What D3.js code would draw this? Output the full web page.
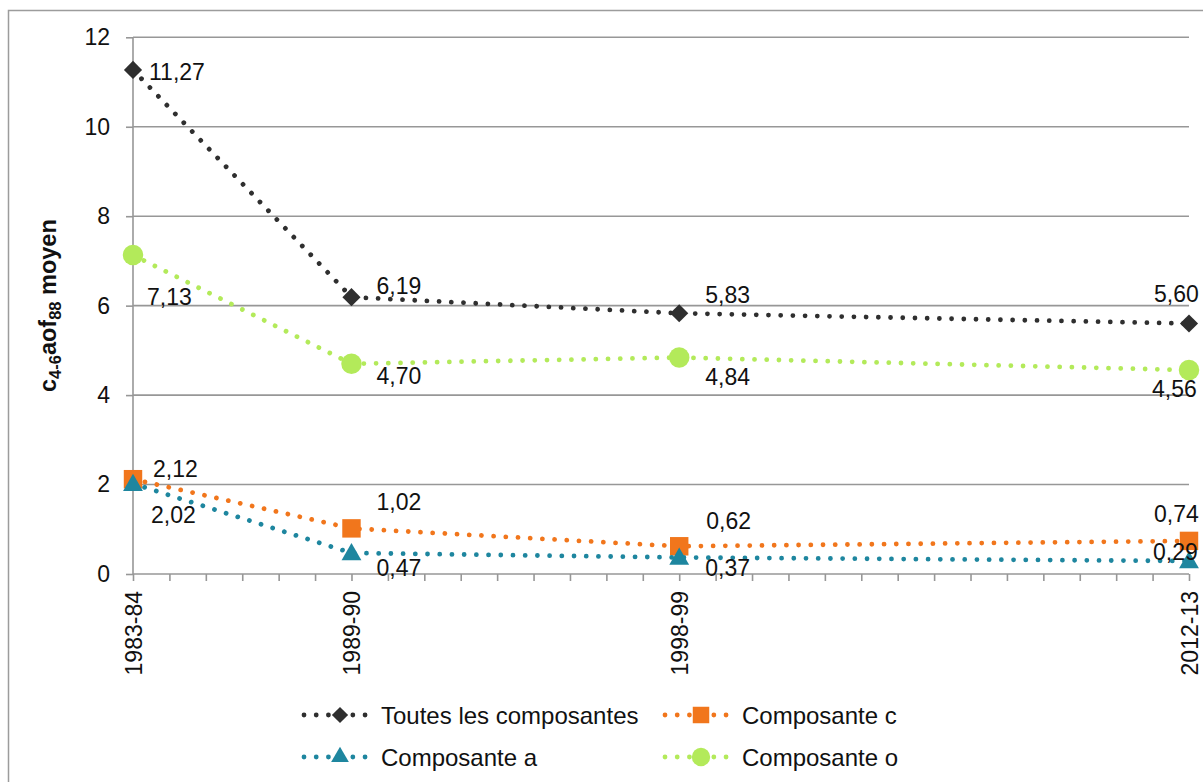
<!DOCTYPE html>
<html>
<head>
<meta charset="utf-8">
<script src="https://cdn.jsdelivr.net/npm/d3@7"></script>
<style>
  body { margin: 0; background: #fff; }
  svg { display: block; font-family: "Liberation Sans", Arial, Helvetica, sans-serif; }
</style>
</head>
<body>
<div id="chart"></div>
<script>
// periods on the x axis, placed on their starting year
const periods = ["1983-84", "1989-90", "1998-99", "2012-13"];
const startYears = [1983, 1989, 1998, 2012];

const toutes = [11.27, 6.19, 5.83, 5.60];
const compC = [2.12, 1.02, 0.62, 0.74];
const compA = [2.02, 0.47, 0.37, 0.29];
const compO = [7.13, 4.70, 4.84, 4.56];

const seriesNames = ["Toutes les composantes", "Composante c", "Composante a", "Composante o"];
const yTicks = [0, 2, 4, 6, 8, 10, 12];

// styling per series (not data)
const colors = ["#2f2f2f", "#f1761c", "#1e869f", "#b3ea5a"];
const shapes = ["diamond", "square", "triangle", "circle"];
// label offsets from the point: [dx, dy baseline]
const labelOffsets = [
  [[16, 10], [25, -3], [26, -10], [-35, -22]],
  [[20, -2], [25, -18], [27, -17], [-35, -19]],
  [[18, 39], [25, 23], [26, 19], [-36, -1]],
  [[14, 50], [25, 20], [26, 27], [-37, 27]]
];

const W = 1203, H = 782;
const margin = {top: 37.3, right: 14, bottom: 208, left: 133},
    width = W - margin.left - margin.right,
    height = H - margin.top - margin.bottom;

const root = d3.select("#chart").append("svg")
    .attr("width", W)
    .attr("height", H);

// outer chart frame (cut by the picture edge)
root.append("path")
    .attr("d", `M8.5,${H} V10.5 H${W}`)
    .attr("fill", "none")
    .attr("stroke", "#9c9c9c")
    .attr("stroke-width", 1.5);

const svg = root.append("g")
    .attr("transform", `translate(${margin.left},${margin.top})`);

const x = d3.scaleLinear()
    .domain([startYears[0], startYears[startYears.length - 1]])
    .range([0, width]);

const y = d3.scaleLinear()
    .domain([0, 12])
    .range([height, 0]);

// gridlines
svg.append("g")
  .selectAll("line")
  .data(yTicks.filter(d => d > 0))
  .join("line")
    .attr("x1", 0)
    .attr("x2", width)
    .attr("y1", d => y(d))
    .attr("y2", d => y(d))
    .attr("stroke", "#979797")
    .attr("stroke-width", 1.6);

// y axis
const yAxis = svg.append("g")
    .call(d3.axisLeft(y).tickValues(yTicks).tickSize(7).tickPadding(16));
yAxis.select(".domain").remove();
yAxis.append("line")
    .attr("x1", 0).attr("x2", 0)
    .attr("y1", 0).attr("y2", height)
    .attr("stroke", "#979797")
    .attr("stroke-width", 1.6);
yAxis.selectAll(".tick line").attr("stroke", "#979797").attr("stroke-width", 1.6);
yAxis.selectAll(".tick text")
    .attr("fill", "#111")
    .style("font-size", "23px")
    .style("font-family", "'Liberation Sans', Arial, sans-serif");

// x axis, one small tick per year
const labelOf = {};
startYears.forEach((yr, i) => labelOf[yr] = periods[i]);

const xAxis = svg.append("g")
    .attr("transform", `translate(0,${height})`)
    .call(d3.axisBottom(x)
      .tickValues(d3.range(startYears[0], startYears[startYears.length - 1] + 1))
      .tickSize(7)
      .tickFormat(d => labelOf[d] || ""));
xAxis.select(".domain")
    .attr("stroke", "#979797")
    .attr("stroke-width", 1.6)
    .attr("d", `M0,0H${width}`);
xAxis.selectAll(".tick line").attr("stroke", "#979797").attr("stroke-width", 1.6);
xAxis.selectAll(".tick text")
    .attr("fill", "#111")
    .style("font-size", "23px")
    .style("font-family", "'Liberation Sans', Arial, sans-serif")
    .attr("text-anchor", "end")
    .attr("transform", "rotate(-90)")
    .attr("x", -17)
    .attr("y", 0)
    .attr("dy", "0.36em");

// y axis title with subscripts
const title = root.append("text")
    .attr("transform", `translate(56,${margin.top + height / 2}) rotate(-90)`)
    .attr("text-anchor", "middle")
    .attr("font-weight", "bold")
    .attr("fill", "#111")
    .style("font-size", "23.5px");
title.append("tspan").text("c");
title.append("tspan").text("4-6").style("font-size", "16.5px").attr("dy", 5);
title.append("tspan").text("aof").attr("dy", -5);
title.append("tspan").text("88").style("font-size", "16.5px").attr("dy", 5);
title.append("tspan").text(" moyen").attr("dy", -5);

function symbolFor(shape, scale) {
  if (shape === "diamond") return d3.symbol().type(d3.symbolSquare).size(165 * scale)();
  if (shape === "square") return d3.symbol().type(d3.symbolSquare).size(340 * scale)();
  if (shape === "triangle") return d3.symbol().type(d3.symbolTriangle).size(170 * scale)();
  return d3.symbol().type(d3.symbolCircle).size(330 * scale)();
}

const fmt = v => d3.format(".2f")(v).replace(".", ",");

const allSeries = [toutes, compC, compA, compO];

const line = d3.line()
    .x((d, i) => x(startYears[i]))
    .y(d => y(d));

allSeries.forEach((values, s) => {
  const g = svg.append("g");

  g.append("path")
    .datum(values)
    .attr("d", line)
    .attr("fill", "none")
    .attr("stroke", colors[s])
    .attr("stroke-width", 4.8)
    .attr("stroke-linecap", "round")
    .attr("stroke-dasharray", "0.01 12.2");

  g.selectAll("path.marker")
    .data(values)
    .join("path")
      .attr("class", "marker")
      .attr("d", symbolFor(shapes[s], 1))
      .attr("transform", (d, i) => `translate(${x(startYears[i])},${y(d)})` +
          (shapes[s] === "diamond" ? " rotate(45)" : shapes[s] === "triangle" ? " translate(0,1.5)" : ""))
      .attr("fill", colors[s]);
});

// data labels on top
allSeries.forEach((values, s) => {
  svg.append("g")
    .selectAll("text")
    .data(values)
    .join("text")
      .attr("x", (d, i) => x(startYears[i]) + labelOffsets[s][i][0])
      .attr("y", (d, i) => y(d) + labelOffsets[s][i][1])
      .attr("fill", "#111")
      .style("font-size", "23px")
      .text(d => fmt(d));
});

// legend
const legendPos = [[304, 715], [665, 715], [304, 757], [665, 757]];
const legend = root.append("g")
  .selectAll("g")
  .data(seriesNames)
  .join("g")
    .attr("transform", (d, i) => `translate(${legendPos[i][0]},${legendPos[i][1]})`);

legend.append("line")
    .attr("x1", 0).attr("x2", 66)
    .attr("stroke", (d, i) => colors[i])
    .attr("stroke-width", 4.8)
    .attr("stroke-linecap", "round")
    .attr("stroke-dasharray", "0.01 12.2");

legend.append("path")
    .attr("d", (d, i) => symbolFor(shapes[i], 0.8))
    .attr("transform", (d, i) => `translate(36,0)` + (shapes[i] === "diamond" ? " rotate(45)" : ""))
    .attr("fill", (d, i) => colors[i]);

legend.append("text")
    .attr("x", 77)
    .attr("dy", "0.36em")
    .attr("fill", "#111")
    .style("font-size", "24px")
    .text(d => d);
</script>
</body>
</html>
